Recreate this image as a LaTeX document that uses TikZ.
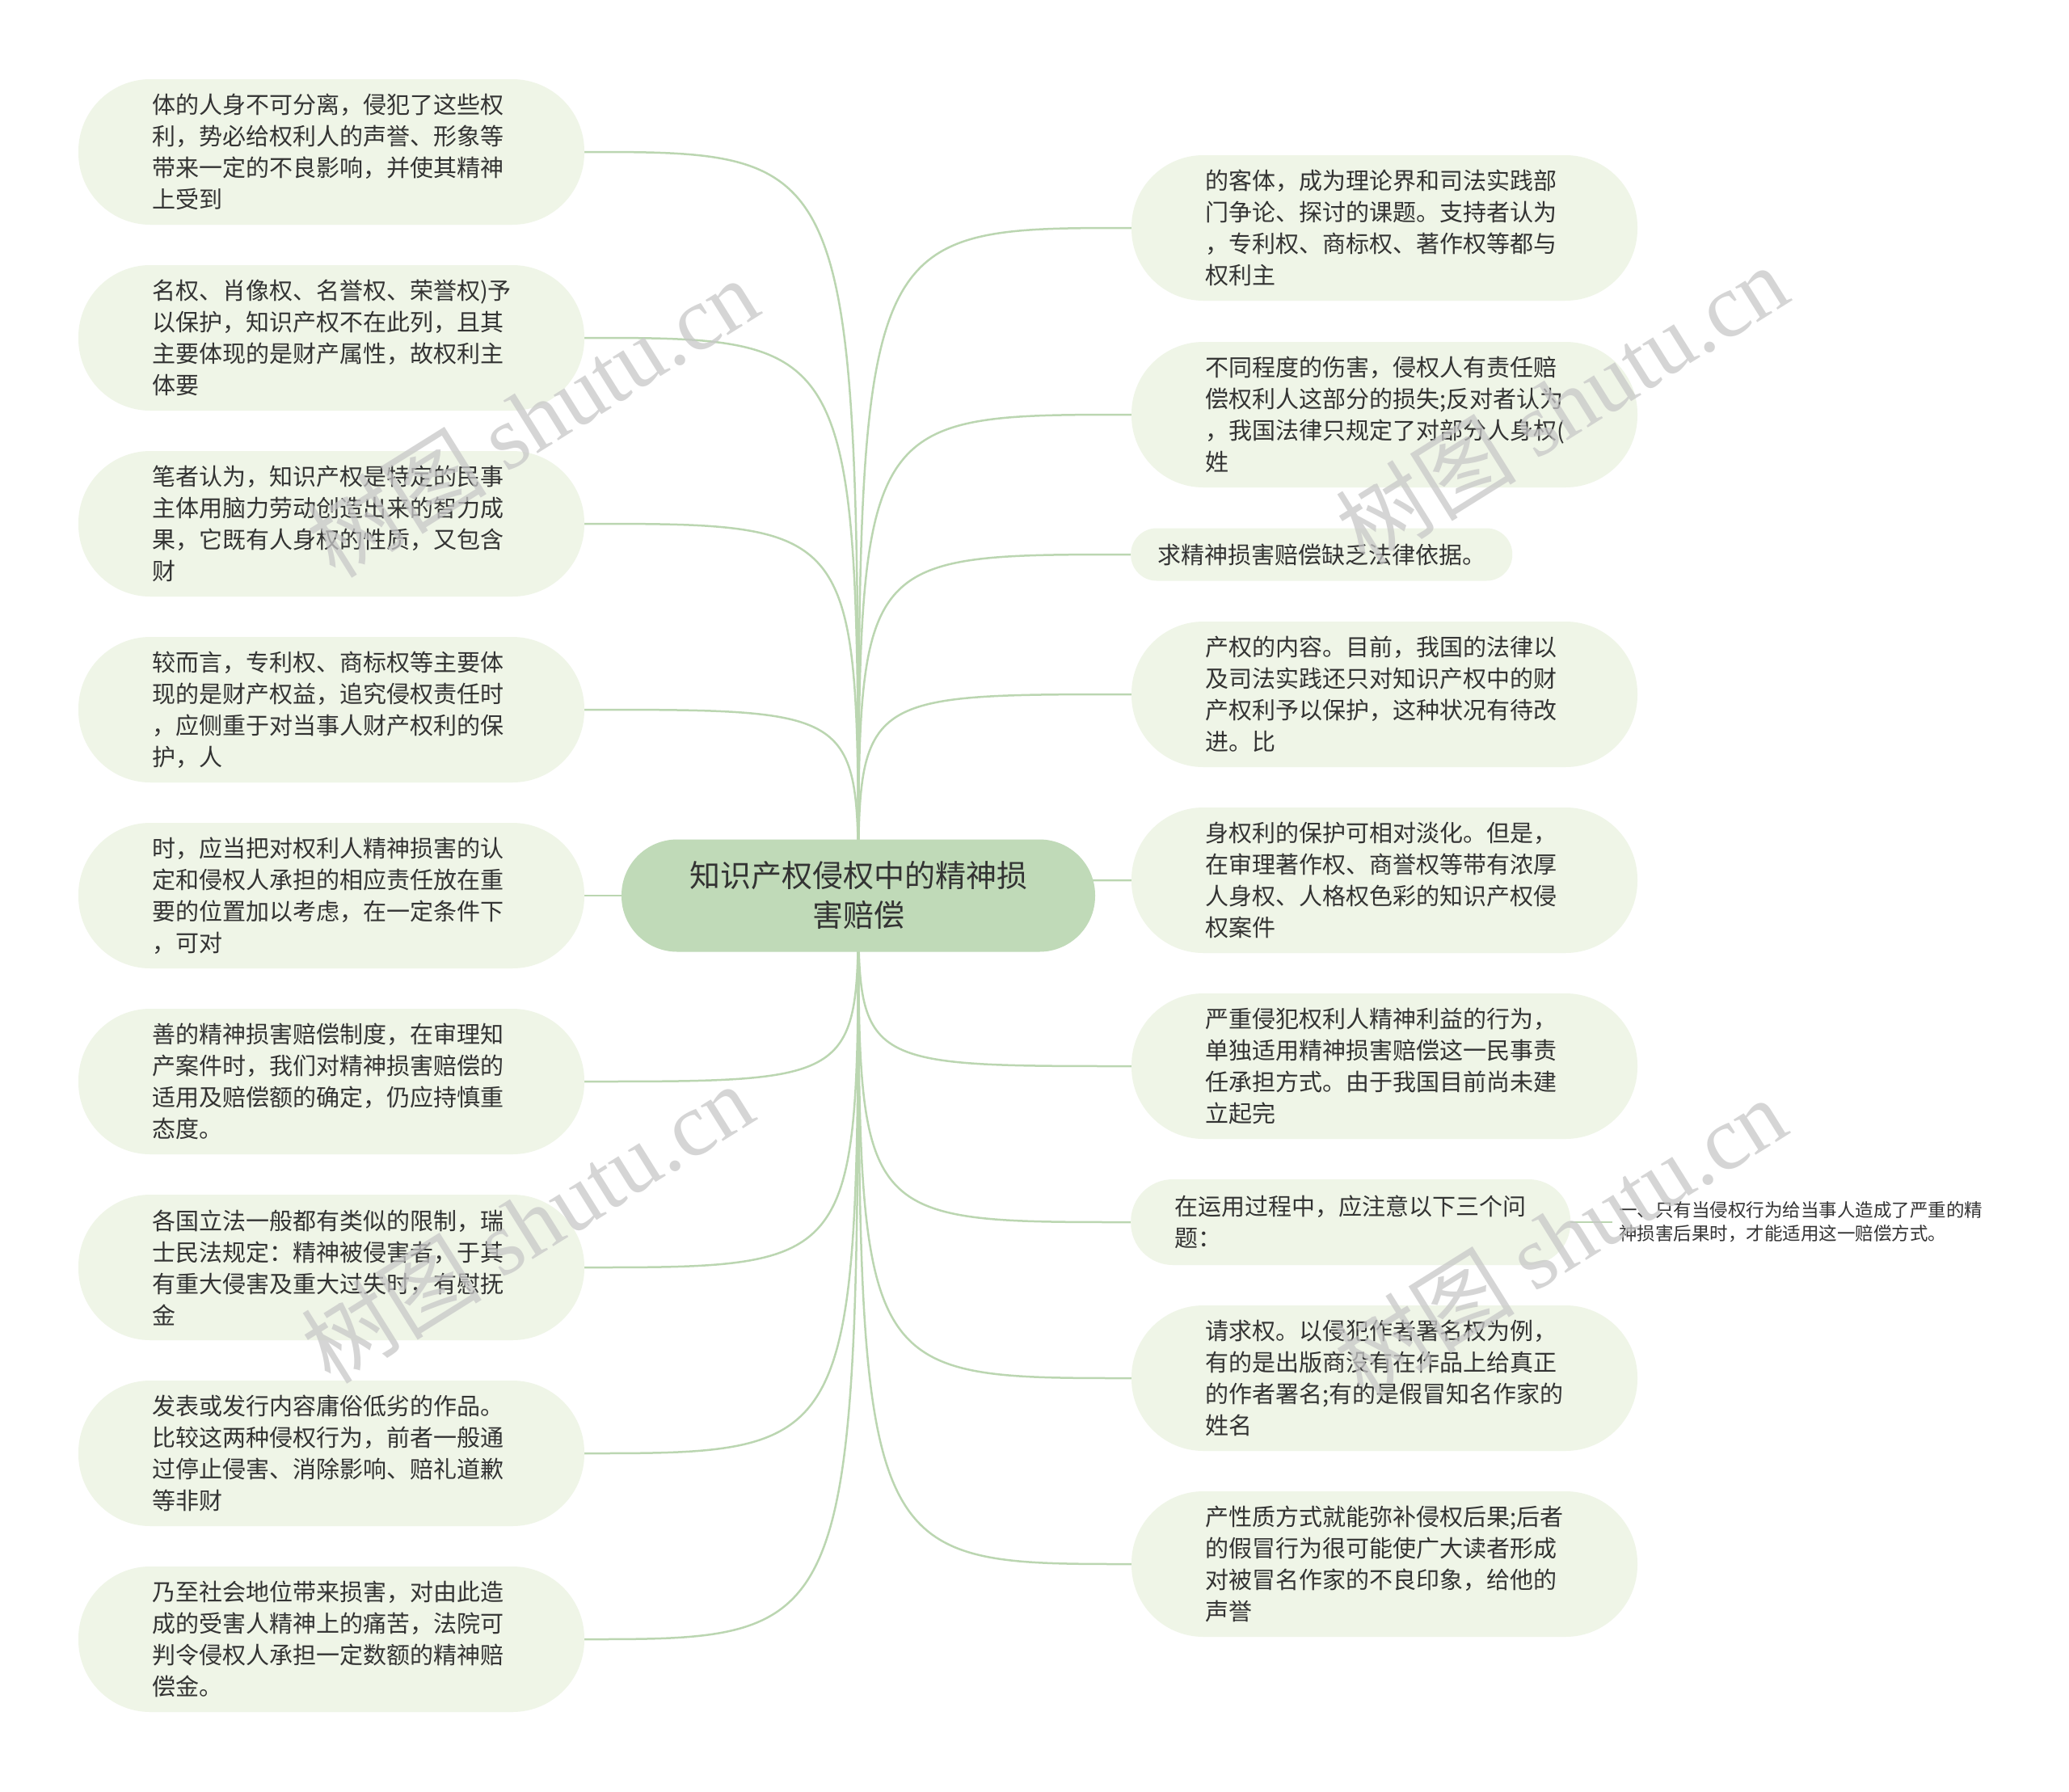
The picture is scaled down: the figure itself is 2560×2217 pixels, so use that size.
\documentclass[tikz,border=0pt]{standalone}
\usepackage{fontspec}
\setmainfont{Noto Sans CJK SC}
\newfontfamily\markfont{Liberation Serif}
\usetikzlibrary{positioning, backgrounds}
\definecolor{rootgreen}{HTML}{C0DAB8}
\definecolor{topicgreen}{HTML}{EFF5E7}
\definecolor{linkgreen}{HTML}{BBD6B1}
\definecolor{textgray}{HTML}{333333}
\definecolor{markgray}{HTML}{C8C8C8}
\tikzset{
	rootnode/.style={
			shape=rectangle,
			rounded corners=69pt,
			fill=rootgreen,
			text=textgray,
			minimum width=586pt,
			minimum height=139pt,
			align=center,
			font=\fontsize{38}{49}\selectfont
		},
	topicnode/.style={
			shape=rectangle,
			rounded corners=89pt,
			fill=topicgreen,
			text=textgray,
			text width=444pt,
			align=left,
			inner xsep=91pt,
			inner ysep=10pt,
			minimum height=180pt,
			font=\fontsize{29}{39}\selectfont
		},
	shortnode/.style={
			topicnode,
			rounded corners=32pt,
			text width=,
			inner xsep=33pt,
			minimum height=65pt
		},
	midnode/.style={
			topicnode,
			rounded corners=52pt,
			text width=436pt,
			inner xsep=54pt,
			minimum height=106pt
		},
	leafnode/.style={
			shape=rectangle,
			text=textgray,
			align=left,
			inner xsep=8pt,
			font=\fontsize{22.5}{29}\selectfont
		},
	link/.style={
			draw=linkgreen,
			line width=2.5pt
		},
	watermark/.style={
			text=markgray,
			text opacity=0.75,
			rotate=32,
			font=\fontsize{112}{112}\selectfont
		}
}

\begin{document}
\begin{tikzpicture}[x=1pt, y=-1pt]
	\node[rootnode] (root) at (1062,1108) {知识产权侵权中的精神损\\害赔偿};

	% left side
	\node[topicnode] (l1) at (410,188) {体的人身不可分离，侵犯了这些权\\利，势必给权利人的声誉、形象等\\带来一定的不良影响，并使其精神\\上受到};
	\node[topicnode] (l2) at (410,418) {名权、肖像权、名誉权、荣誉权)予\\以保护，知识产权不在此列，且其\\主要体现的是财产属性，故权利主\\体要};
	\node[topicnode] (l3) at (410,648) {笔者认为，知识产权是特定的民事\\主体用脑力劳动创造出来的智力成\\果，它既有人身权的性质，又包含\\财};
	\node[topicnode] (l4) at (410,878) {较而言，专利权、商标权等主要体\\现的是财产权益，追究侵权责任时\\，应侧重于对当事人财产权利的保\\护，人};
	\node[topicnode] (l5) at (410,1108) {时，应当把对权利人精神损害的认\\定和侵权人承担的相应责任放在重\\要的位置加以考虑，在一定条件下\\，可对};
	\node[topicnode] (l6) at (410,1338) {善的精神损害赔偿制度，在审理知\\产案件时，我们对精神损害赔偿的\\适用及赔偿额的确定，仍应持慎重\\态度。};
	\node[topicnode] (l7) at (410,1568) {各国立法一般都有类似的限制，瑞\\士民法规定：精神被侵害者，于其\\有重大侵害及重大过失时，有慰抚\\金};
	\node[topicnode] (l8) at (410,1798) {发表或发行内容庸俗低劣的作品。\\比较这两种侵权行为，前者一般通\\过停止侵害、消除影响、赔礼道歉\\等非财};
	\node[topicnode] (l9) at (410,2028) {乃至社会地位带来损害，对由此造\\成的受害人精神上的痛苦，法院可\\判令侵权人承担一定数额的精神赔\\偿金。};

	% right side
	\node[topicnode] (r1) at (1713,282) {的客体，成为理论界和司法实践部\\门争论、探讨的课题。支持者认为\\，专利权、商标权、著作权等都与\\权利主};
	\node[topicnode] (r2) at (1713,513) {不同程度的伤害，侵权人有责任赔\\偿权利人这部分的损失;反对者认为\\，我国法律只规定了对部分人身权(\\姓};
	\node[shortnode, anchor=west] (r3) at (1399,686) {求精神损害赔偿缺乏法律依据。};
	\node[topicnode] (r4) at (1713,859) {产权的内容。目前，我国的法律以\\及司法实践还只对知识产权中的财\\产权利予以保护，这种状况有待改\\进。比};
	\node[topicnode] (r5) at (1713,1089) {身权利的保护可相对淡化。但是，\\在审理著作权、商誉权等带有浓厚\\人身权、人格权色彩的知识产权侵\\权案件};
	\node[topicnode] (r6) at (1713,1319) {严重侵犯权利人精神利益的行为，\\单独适用精神损害赔偿这一民事责\\任承担方式。由于我国目前尚未建\\立起完};
	\node[midnode, anchor=west] (r7) at (1399,1512) {在运用过程中，应注意以下三个问\\题：};
	\node[topicnode] (r8) at (1713,1705) {请求权。以侵犯作者署名权为例，\\有的是出版商没有在作品上给真正\\的作者署名;有的是假冒知名作家的\\姓名};
	\node[topicnode] (r9) at (1713,1935) {产性质方式就能弥补侵权后果;后者\\的假冒行为很可能使广大读者形成\\对被冒名作家的不良印象，给他的\\声誉};

	\node[leafnode, anchor=west] (leaf) at (1995,1512) {一、只有当侵权行为给当事人造成了严重的精\\神损害后果时，才能适用这一赔偿方式。};

	\begin{scope}[on background layer]
		\fill[white] (0,0) rectangle (2560,2217);
		\foreach \n in {l1,l2,l3,l4,l5,l6,l7,l8,l9}
			\draw[link] (root.center) .. controls (root.center |- \n.east) and (root.center |- \n.east) .. (\n.east);
		\foreach \n in {r1,r2,r3,r4,r5,r6,r7,r8,r9}
			\draw[link] (root.center) .. controls (root.center |- \n.west) and (root.center |- \n.west) .. (\n.west);
		\draw[link] (r7.east) -- (leaf.west);
	\end{scope}

	% watermarks
	\node[watermark] (wm1) at (658,516) {树图 {\markfont shutu.cn}};
	\node[watermark] (wm2) at (1932,500) {树图 {\markfont shutu.cn}};
	\node[watermark] (wm3) at (652,1513) {树图 {\markfont shutu.cn}};
	\node[watermark] (wm4) at (1930,1530) {树图 {\markfont shutu.cn}};
\end{tikzpicture}
\end{document}
